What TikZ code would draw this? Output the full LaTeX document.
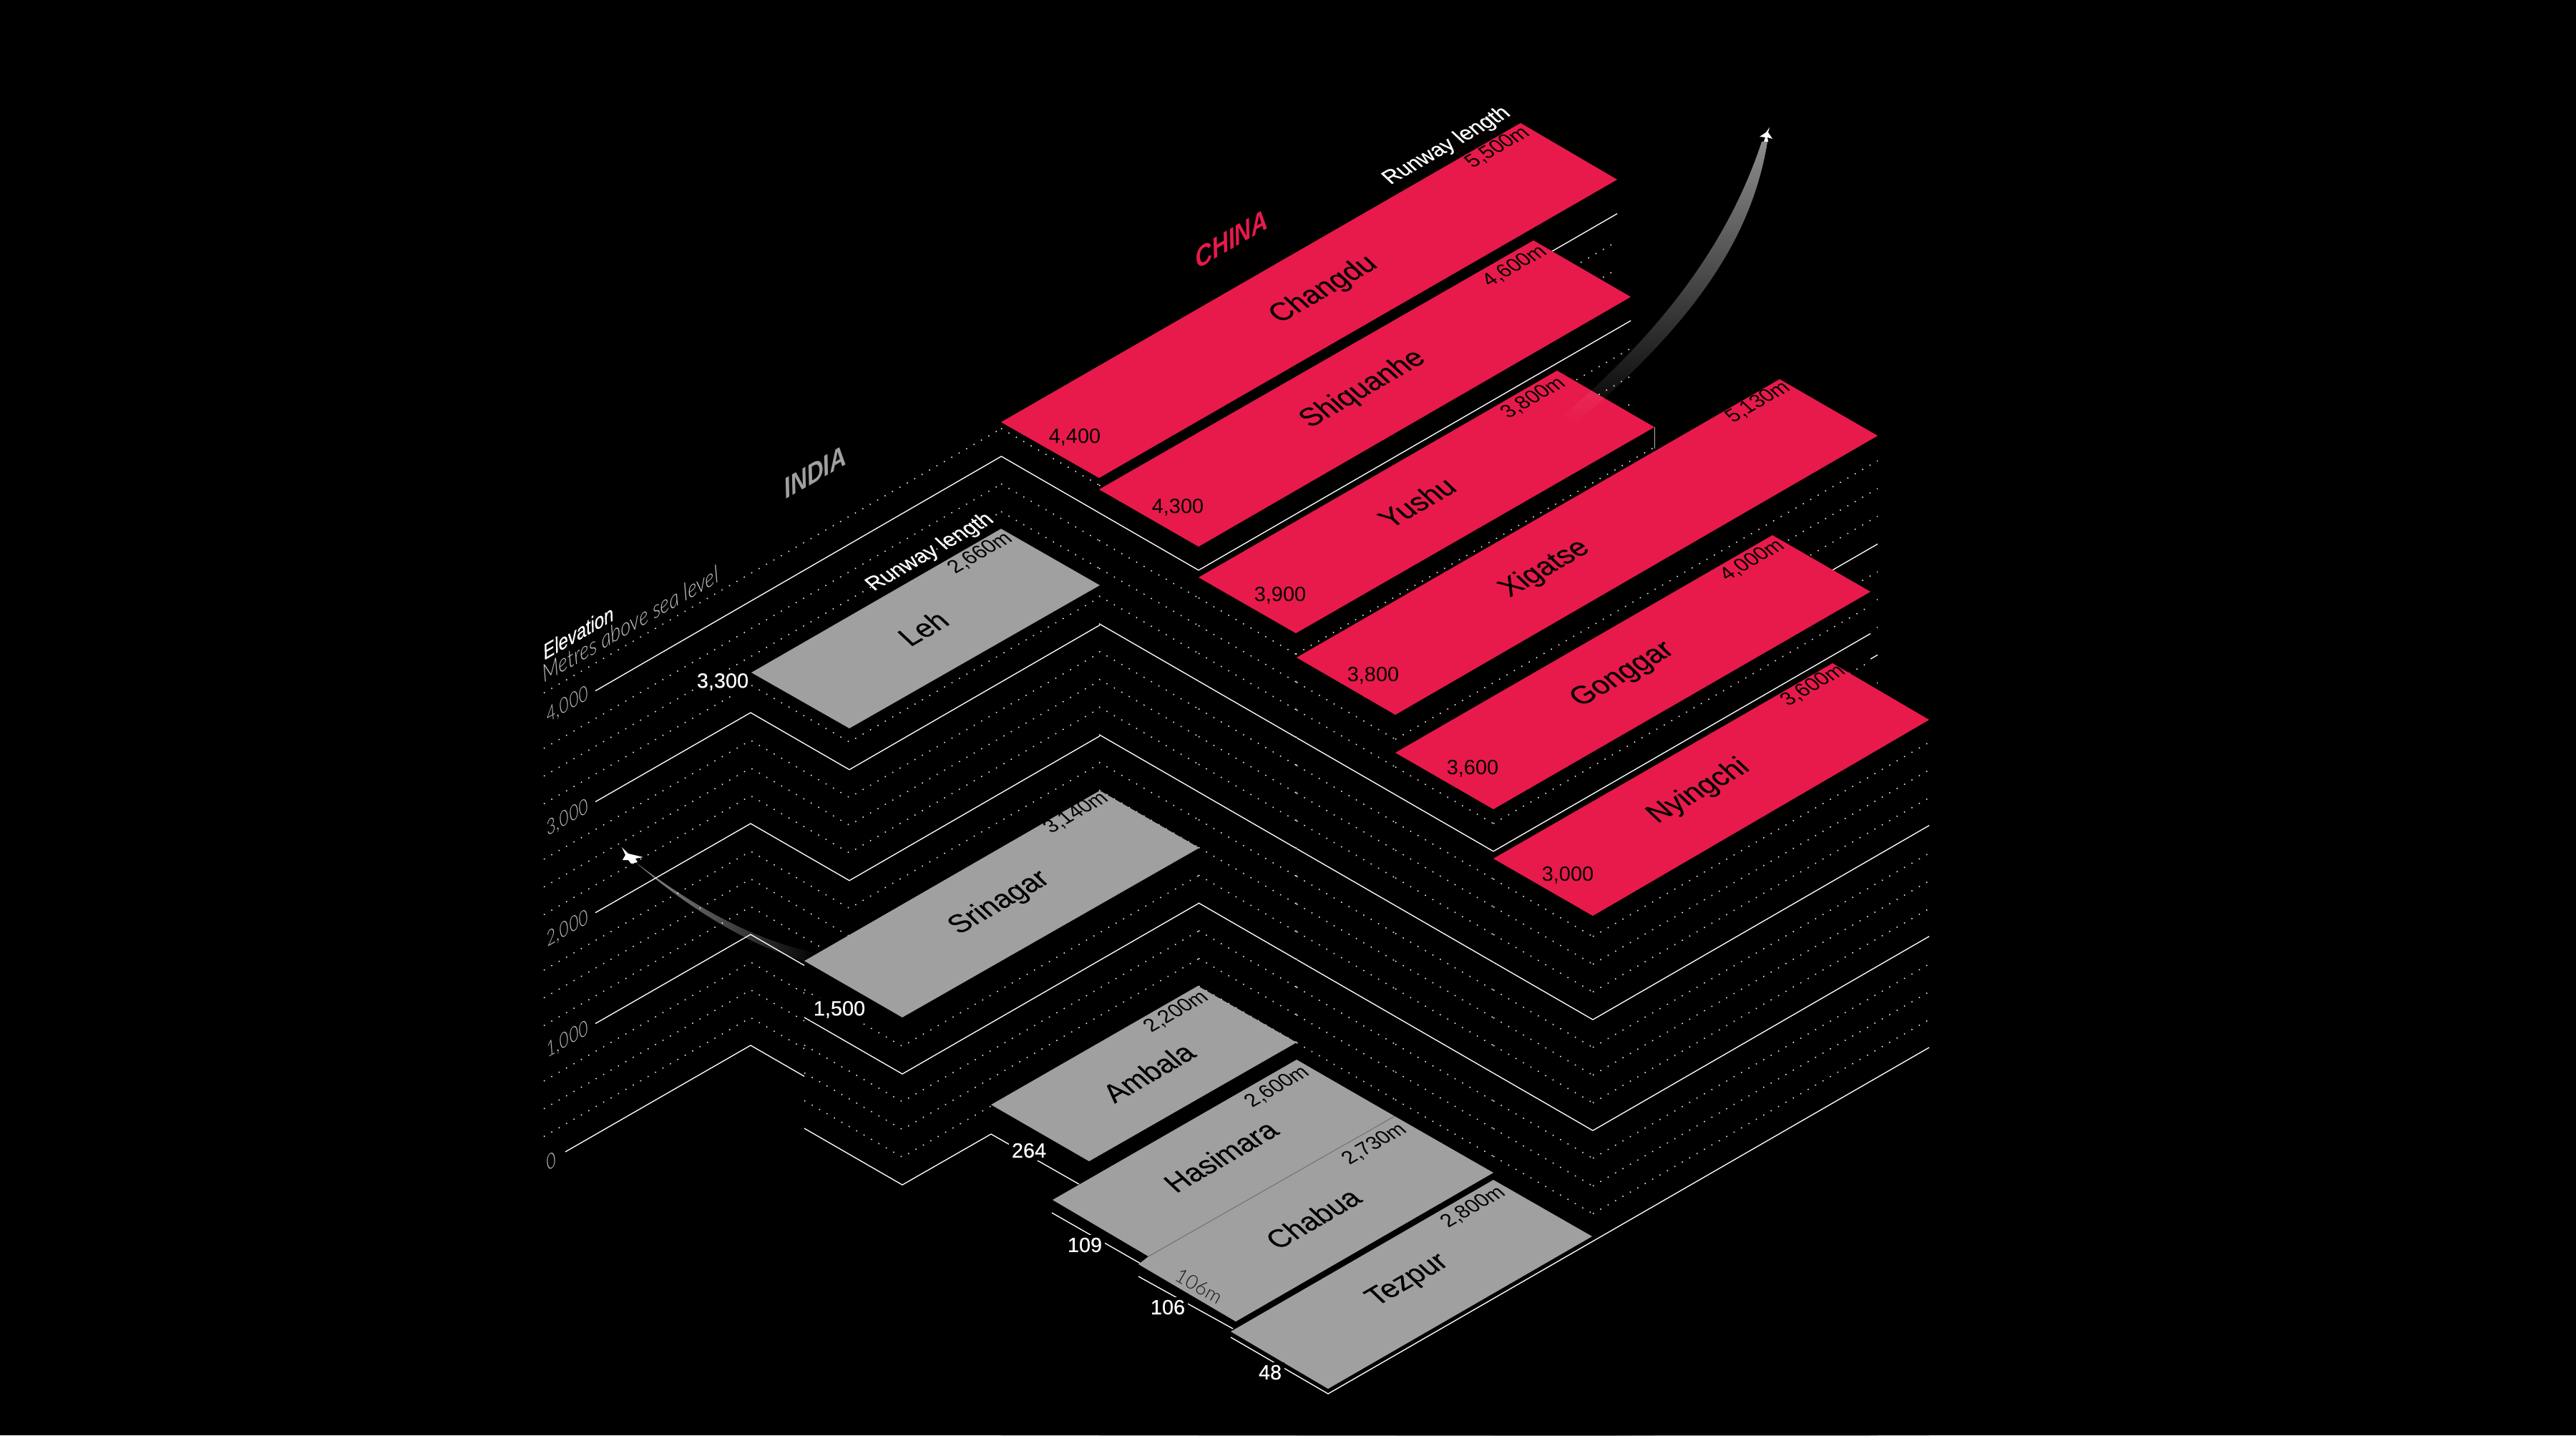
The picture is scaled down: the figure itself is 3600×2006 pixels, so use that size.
\documentclass[tikz,border=0pt]{standalone}
\usepackage{fontspec}
\setmainfont{Liberation Sans}
\newfontfamily\medfont{Liberation Sans}[FakeBold=0.35]
\newfontfamily\thinfont{Lato}[UprightFont={* Light},ItalicFont={* Light Italic}]
\usetikzlibrary{fadings}
\definecolor{chinared}{HTML}{E81A4B}
\definecolor{indiagrey}{HTML}{A0A0A0}
\tikzfading[name=trailup, top color=transparent!45, bottom color=transparent!100]
\tikzfading[name=trailleft, left color=transparent!45, right color=transparent!100]
\tikzset{
    % contour lines
    contour/.style={draw=white, line width=0.38pt},
    dotline/.style={draw=white!90!black, line width=0.45pt, dash pattern=on 0.45pt off 2.95pt},
    elev/.code={\pgfmathtruncatemacro\modv{mod(#1,1000)}\ifnum\modv=0 \tikzset{contour}\else\tikzset{dotline}\fi},
    % text on the runways
    planar/.style={rotate=30, xslant=-0.3, transform shape, inner sep=0pt},
    citylabel/.style={planar, font=\fontsize{11.2pt}{12pt}\selectfont\medfont, text=black},
    lengthlabel/.style={planar, font=\fontsize{8pt}{9pt}\selectfont, text=black},
    runwaylabel/.style={planar, font=\fontsize{8.4pt}{9pt}\selectfont\medfont, text=white},
    heightlabel/.style={font=\fontsize{8.2pt}{9pt}\selectfont, text=black, inner sep=0pt},
    groundlabel/.style={font=\fontsize{8.2pt}{9pt}\selectfont\medfont, text=white, fill=black, inner sep=1.2pt},
    % text on the wall
    walllabel/.style={rotate=30, xslant=0.35, transform shape, inner sep=0pt, font=\fontsize{7.6pt}{8pt}\selectfont\thinfont\itshape, text=white!75!black},
    country/.style={rotate=30, xslant=0.35, transform shape, inner sep=0pt, font=\fontsize{10.4pt}{11pt}\selectfont\bfseries\itshape},
    planeicon/.style={fill=white}
}

\begin{document}
\begin{tikzpicture}[x=0.01cm,y=-0.01cm]
  \fill[black] (0,0) rectangle (3600,2006);
  \useasboundingbox (0,0) rectangle (3600,2006);

  % China rows, back to front: block, contour pieces, top
  \foreach \lx/\ly/\tx/\ty/\bx/\by/\rx/\ry/\vlow/\vtop/\stop/\sh in {
    1399/590/2125/172/1536/668/2260/251/3500/4250/4000/0,
    1536/684/2143/336/1675/764/2279/415/1500/4250/4000/0,
    1675/807/2176/518/1811/885/2312/597/250/3750/3750/0,
    1812/919/2487/530/1950/999/2624/609/250/3500/3750/38.75,
    1950/1052/2477/748/2087/1131/2614/827/250/3250/3250/0,
    2087/1200/2561/927/2226/1280/2696/1006/250/2750/2750/0}{
    \fill[black] (\lx,\ly) -- (\bx,\by) -- (\rx,\ry) -- (\rx,2006) -- (\lx,2006) -- cycle;
    \foreach \e [evaluate=\e as \lvl using int(\e)] in {250,500,...,4250}{
      \pgfmathsetmacro\ya{449.8+0.5774*\lx-0.155*\lvl}
      \pgfmathsetmacro\yb{449.8+0.5774*\bx-0.155*\lvl}
      \pgfmathsetmacro\yc{\yb+\sh}
      \pgfmathsetmacro\yd{\yc-0.5774*(\rx-\bx)}
      \ifnum\lvl<\vlow\else
        \ifnum\lvl>\vtop\else
          \draw[elev=\lvl] (\lx,\ya) -- (\bx,\yb);
        \fi
        \ifnum\lvl>\stop\else
          \draw[elev=\lvl] (\bx,\yc) -- (\rx,\yd);
        \fi
      \fi
    }
    \fill[chinared] (\lx,\ly) -- (\tx,\ty) -- (\rx,\ry) -- (\bx,\by) -- cycle;
  }
  \draw[gray!60, line width=0.3pt] (2312,597) -- (2312,627);

  % India side of every level
  \foreach \e [evaluate=\e as \lvl using int(\e)] in {0,250,...,4250}{
    \pgfmathtruncatemacro\modv{mod(\lvl,1000)}
    \pgfmathsetmacro\sx{\modv==0 ? (\lvl==0 ? 790 : 832) : 760}
    \pgfmathsetmacro\sy{2066-0.5774*\sx-0.155*\lvl}
    \pgfmathsetmacro\pk{1461-0.155*\lvl}
    \ifnum\lvl>3300
      \pgfmathsetmacro\ya{1258-0.155*\lvl}
      \draw[elev=\lvl] (\sx,\sy) -- (1399,\ya);
    \else\ifnum\lvl>1250
      \pgfmathsetmacro\ya{\pk+79.7}
      \pgfmathsetmacro\yb{\ya-202.1}
      \draw[elev=\lvl] (\sx,\sy) -- (1049,\pk) -- (1187,\ya) -- (1537,\yb);
    \else\ifnum\lvl=1250
      \pgfmathsetmacro\ya{\pk+58.3}
      \draw[elev=\lvl] (\sx,\sy) -- (1049,\pk) -- (1150,\ya);
    \else
      \pgfmathsetmacro\ya{\pk+43.3}
      \draw[elev=\lvl] (\sx,\sy) -- (1049,\pk) -- (1124,\ya);
    \fi\fi\fi
    \ifnum\lvl>0 \ifnum\lvl<1300
      \pgfmathsetmacro\ya{1577-0.155*\lvl}
      \pgfmathsetmacro\yb{1656-0.155*\lvl}
      \pgfmathsetmacro\yc{1417-0.155*\lvl}
      \draw[elev=\lvl] (1124,\ya) -- (1261,\yb) -- (1676,\yc);
    \fi\fi
  }
  \draw[contour] (1124,1577) -- (1261,1656) -- (1385,1585) -- (1508,1655);
  \draw[contour] (1470,1695) -- (1594,1766);
  \draw[contour] (1591,1784) -- (1723,1857);
  \draw[contour] (1720,1869) -- (1856,1948) -- (2696,1464);

  % India tops
  \fill[indiagrey] (1050,940) -- (1399,739) -- (1537,818) -- (1187,1018) -- cycle;
  \fill[indiagrey] (1124,1343) -- (1537,1105) -- (1676,1185) -- (1261,1422) -- cycle;
  \fill[indiagrey] (1385,1544) -- (1674,1378) -- (1812,1457) -- (1522,1623) -- cycle;
  \fill[indiagrey] (1471,1677) -- (1812,1481) -- (1949,1560) -- (1605,1756) -- cycle;
  \fill[indiagrey] (1591,1767) -- (1605,1756) -- (1949,1560) -- (2087,1639) -- (1727,1847) -- cycle;
  \fill[indiagrey] (1720,1861) -- (2087,1649) -- (2225,1728) -- (1856,1941) -- cycle;
  \draw[black!55, line width=0.3pt] (1605,1756) -- (1949,1560);

  % trails and planes
  \fill[white, path fading=trailup] (2470,198) .. controls (2450,320) and (2382,440) .. (2200,593)
    -- (2185,580) .. controls (2350,440) and (2425,310) .. (2462,198) -- cycle;
  \fill[white, path fading=trailleft] (888,1205) .. controls (960,1260) and (1050,1315) .. (1143,1332)
    -- (1123,1343) .. controls (1045,1321) and (958,1266) .. (888,1205) -- cycle;
  \fill[planeicon] (2473,178) -- (2471,185) -- (2477,194) -- (2470,192) -- (2471,198) -- (2465,198)
    -- (2467,192) -- (2459,191) -- (2468,185) -- cycle;
  \fill[planeicon] (869,1184) -- (878,1193) -- (899,1198) -- (888,1200) -- (891,1205) -- (882,1207)
    -- (878,1202) -- (870,1202) -- (874,1195) -- cycle;

  % city names
  \node[citylabel] (changdu) at (1850,405) {Changdu};
  \node[citylabel] (shiquanhe) at (1905,544) {Shiquanhe};
  \node[citylabel] (yushu) at (1980,702) {Yushu};
  \node[citylabel] (xigatse) at (2159,795) {Xigatse};
  \node[citylabel] (gonggar) at (2268,943) {Gonggar};
  \node[citylabel] (nyingchi) at (2374,1106) {Nyingchi};
  \node[citylabel] (leh) at (1290,878) {Leh};
  \node[citylabel] (srinagar) at (1397,1262) {Srinagar};
  \node[citylabel] (ambala) at (1605,1499) {Ambala};
  \node[citylabel] (hasimara) at (1706,1616) {Hasimara};
  \node[citylabel] (chabua) at (1835,1703) {Chabua};
  \node[citylabel] (tezpur) at (1968,1790) {Tezpur};

  % runway lengths
  \node[lengthlabel] (lenchangdu) at (2093,206) {5,500m};
  \node[lengthlabel] (lenshiquanhe) at (2117,372) {4,600m};
  \node[lengthlabel] (lenyushu) at (2143,556) {3,800m};
  \node[lengthlabel] (lenxigatse) at (2457,562) {5,130m};
  \node[lengthlabel] (lengonggar) at (2449,783) {4,000m};
  \node[lengthlabel] (lennyingchi) at (2534,958) {3,600m};
  \node[lengthlabel] (lenleh) at (1370,773) {2,660m};
  \node[lengthlabel] (lensrinagar) at (1504,1136) {3,140m};
  \node[lengthlabel] (lenambala) at (1644,1414) {2,200m};
  \node[lengthlabel] (lenhasimara) at (1785,1519) {2,600m};
  \node[lengthlabel] (lenchabua) at (1921,1599) {2,730m};
  \node[lengthlabel] (lentezpur) at (2059,1687) {2,800m};
  \node[rotate=-30, transform shape, inner sep=0pt, font=\fontsize{7.8pt}{8pt}\selectfont\thinfont, text=black!90] (widthchabua) at (1676,1798) {106m};
  \node[runwaylabel] (runchina) at (2022,204) {Runway length};
  \node[runwaylabel] (runindia) at (1300,772) {Runway length};

  % elevations
  \node[heightlabel] (hchangdu) at (1502,611) {4,400};
  \node[heightlabel] (hshiquanhe) at (1646,709) {4,300};
  \node[heightlabel] (hyushu) at (1789,832) {3,900};
  \node[heightlabel] (hxigatse) at (1919,944) {3,800};
  \node[heightlabel] (hgonggar) at (2058,1074) {3,600};
  \node[heightlabel] (hnyingchi) at (2191,1223) {3,000};
  \node[groundlabel] (hleh) at (1010,953) {3,300};
  \node[groundlabel] (hsrinagar) at (1173,1411) {1,500};
  \node[groundlabel] (hambala) at (1438,1608) {264};
  \node[groundlabel] (hhasimara) at (1516,1740) {109};
  \node[groundlabel] (hchabua) at (1632,1827) {106};
  \node[groundlabel] (htezpur) at (1775,1918) {48};

  % scale on the wall
  \node[walllabel] (scalefour) at (793,985) {4,000};
  \node[walllabel] (scalethree) at (793,1143) {3,000};
  \node[walllabel] (scaletwo) at (793,1298) {2,000};
  \node[walllabel] (scaleone) at (793,1453) {1,000};
  \node[walllabel] (scalezero) at (770,1623) {0};
  \node[walllabel, text=white, font=\fontsize{7.8pt}{8pt}\selectfont\medfont\itshape] (elevtitle) at (808,884) {Elevation};
  \node[walllabel, font=\fontsize{8.8pt}{9pt}\selectfont\thinfont\itshape] (elevunit) at (881,872) {Metres above sea level};
  \node[country, text=indiagrey] (india) at (1139,660) {INDIA};
  \node[country, text=chinared] (china) at (1721,334) {CHINA};
\end{tikzpicture}
\end{document}
